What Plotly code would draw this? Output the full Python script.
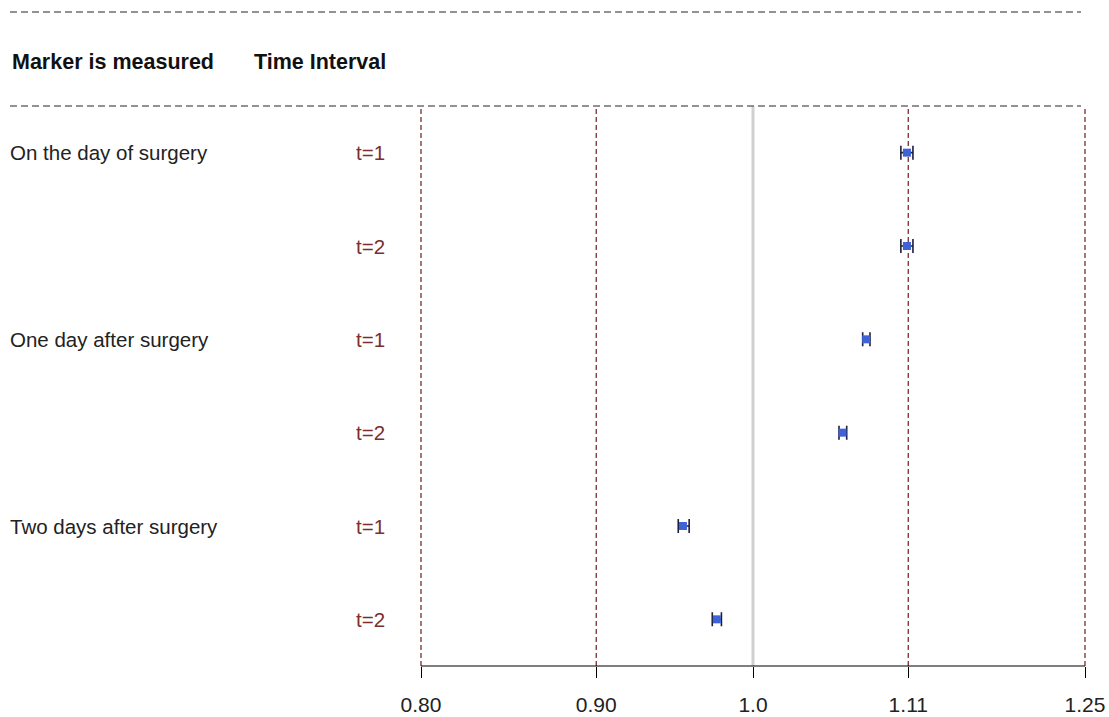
import math
import plotly.graph_objects as go

# Estimates with confidence limits for each marker timing and time interval
groups = ["On the day of surgery", "One day after surgery", "Two days after surgery"]
intervals = ["t=1", "t=2", "t=1", "t=2", "t=1", "t=2"]
estimate = [1.109, 1.109, 1.079, 1.062, 0.954, 0.976]
lower = [1.1045, 1.1045, 1.0765, 1.0595, 0.951, 0.973]
upper = [1.1135, 1.1135, 1.0818, 1.0650, 0.958, 0.979]
tick_vals = [0.80, 0.90, 1.0, 1.11, 1.25]
tick_text = ["0.80", "0.90", "1.0", "1.11", "1.25"]
ref_lines = [0.80, 0.90, 1.11, 1.25]
null_value = 1.0
x_min, x_max = 0.80, 1.25

rows = list(range(1, len(estimate) + 1))

W, H = 1109, 717
EDGE = 3  # a little breathing room so the outer dashed lines are not clipped
L, R, T, B = 421 - EDGE, 24 - EDGE, 106, 51
plot_w = W - L - R
plot_h = H - T - B

lo_log, hi_log = math.log10(x_min), math.log10(x_max)
per_px = (hi_log - lo_log) / (plot_w - 2 * EDGE)
x_range = [lo_log - EDGE * per_px, hi_log + EDGE * per_px]


def px_x(p):
    return (p - L) / plot_w


def px_y(p):
    return (H - B - p) / plot_h


FONT = "Liberation Sans, Arial, sans-serif"
DARKRED = "#7a2e2e"

fig = go.Figure()

fig.add_trace(go.Scatter(
    x=estimate,
    y=rows,
    mode="markers",
    marker=dict(symbol="square", size=8, color="#3f63d6"),
    error_x=dict(
        type="data",
        symmetric=False,
        array=[u - e for u, e in zip(upper, estimate)],
        arrayminus=[e - lo for e, lo in zip(estimate, lower)],
        color="#1b1f3a",
        thickness=1.6,
        width=7,
    ),
    showlegend=False,
    hoverinfo="skip",
))

shapes = []
# null line
shapes.append(dict(type="line", xref="x", yref="paper", x0=null_value, x1=null_value,
                   y0=0, y1=1, line=dict(color="#d0d0d0", width=3), layer="below"))
# dashed reference lines
for v in ref_lines:
    shapes.append(dict(type="line", xref="x", yref="paper", x0=v, x1=v, y0=0, y1=1,
                       line=dict(color=DARKRED, width=1.3, dash="5px,3px"), layer="below"))
# axis baseline spanning the scale
shapes.append(dict(type="line", xref="x", yref="paper", x0=x_min, x1=x_max, y0=0, y1=0,
                   line=dict(color="black", width=1.2)))
# header separators
for py in (12, 106):
    shapes.append(dict(type="line", xref="paper", yref="paper",
                       x0=px_x(10), x1=px_x(1081), y0=px_y(py), y1=px_y(py),
                       line=dict(color="#6f6f6f", width=1.4, dash="7px,4px")))

annotations = []
annotations.append(dict(xref="paper", yref="paper", x=px_x(10), y=px_y(62),
                        text="<b>Marker is measured</b>", showarrow=False,
                        xanchor="left", yanchor="middle",
                        font=dict(family=FONT, size=21.5, color="#111111")))
annotations.append(dict(xref="paper", yref="paper", x=px_x(388), y=px_y(62),
                        text="<b>Time Interval</b>", showarrow=False,
                        xanchor="right", yanchor="middle",
                        font=dict(family=FONT, size=21.5, color="#111111")))
for i, g in enumerate(groups):
    annotations.append(dict(xref="paper", yref="y", x=px_x(8), y=rows[2 * i],
                            text=g, showarrow=False, xanchor="left", yanchor="middle",
                            font=dict(family=FONT, size=20.5, color="#222222")))
for r, t in zip(rows, intervals):
    annotations.append(dict(xref="paper", yref="y", x=px_x(387), y=r,
                            text=t, showarrow=False, xanchor="right", yanchor="middle",
                            font=dict(family=FONT, size=20.5, color=DARKRED)))

fig.update_layout(
    width=W, height=H,
    margin=dict(l=L, r=R, t=T, b=B, pad=0, autoexpand=False),
    paper_bgcolor="white", plot_bgcolor="white",
    shapes=shapes, annotations=annotations,
    xaxis=dict(
        type="log",
        range=x_range,
        tickvals=tick_vals, ticktext=tick_text,
        showgrid=False, zeroline=False, showline=False,
        ticks="outside", ticklen=11, tickcolor="black", tickwidth=1.2,
        ticklabelstandoff=9,
        tickfont=dict(family=FONT, size=21, color="#222222"),
        automargin=False,
        fixedrange=True,
    ),
    yaxis=dict(
        range=[6.5, 0.5], visible=False, showgrid=False, zeroline=False,
        fixedrange=True,
    ),
)

fig.write_html("out.html")
